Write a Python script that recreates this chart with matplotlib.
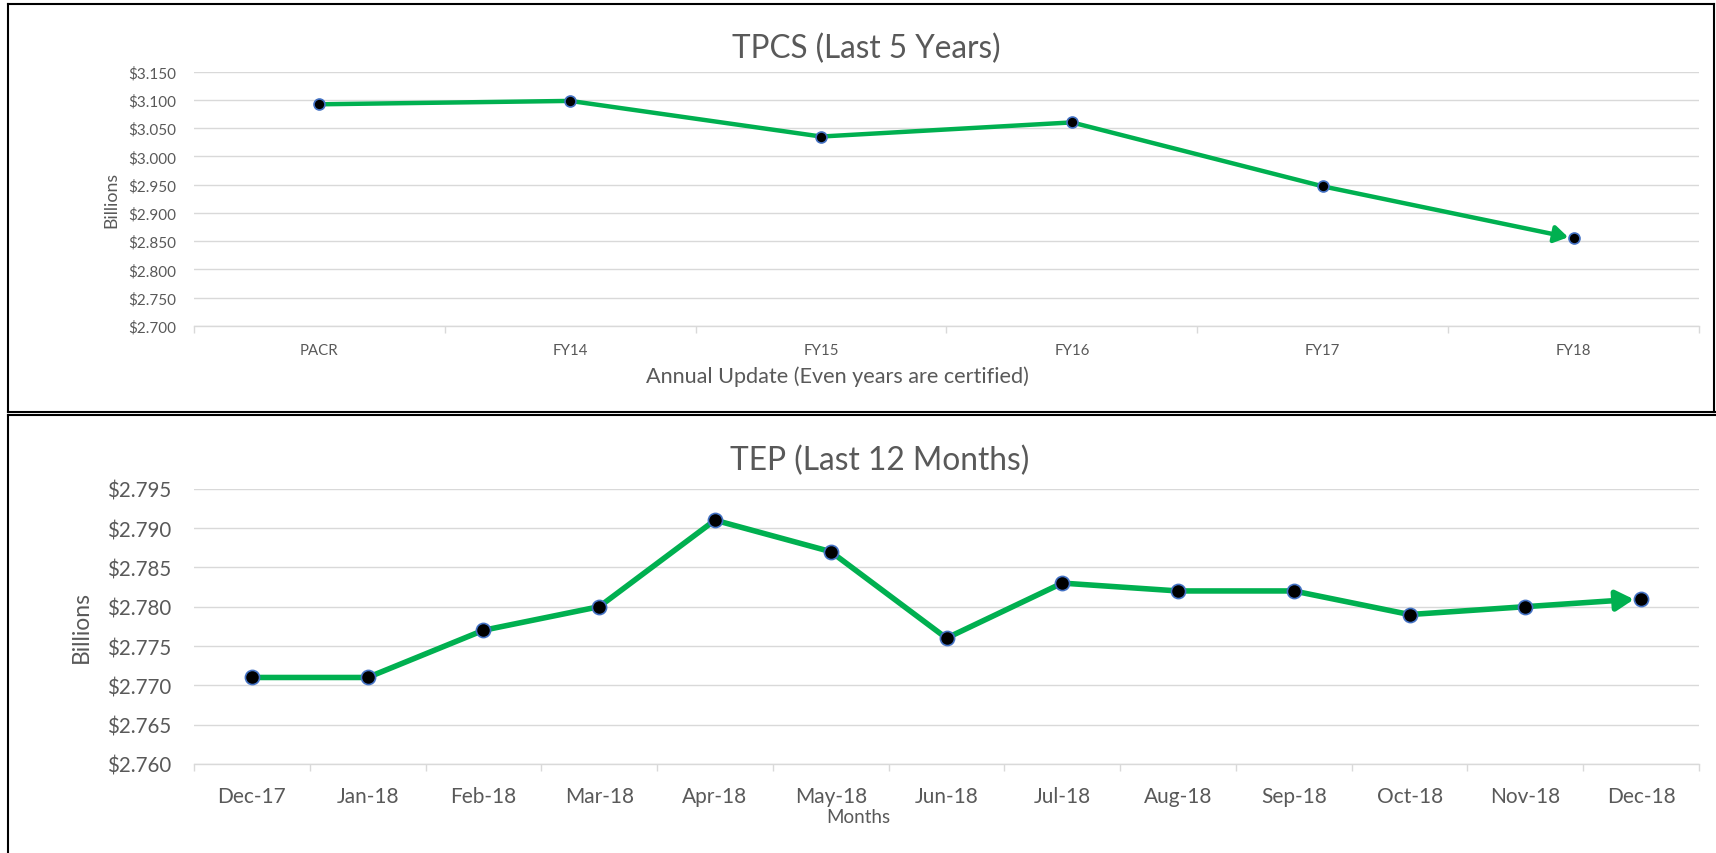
import matplotlib
matplotlib.use('Agg')
import matplotlib.pyplot as plt
from matplotlib.ticker import MultipleLocator, FuncFormatter
from matplotlib.lines import Line2D
import numpy as np

plt.rcParams['font.family'] = ['Lato', 'DejaVu Sans']

# TPCS, annual updates
years = ['PACR', 'FY14', 'FY15', 'FY16', 'FY17', 'FY18']
tpcs = [3.092, 3.098, 3.035, 3.060, 2.947, 2.855]

# TEP, last 12 months
months = ['Dec-17', 'Jan-18', 'Feb-18', 'Mar-18', 'Apr-18', 'May-18', 'Jun-18',
          'Jul-18', 'Aug-18', 'Sep-18', 'Oct-18', 'Nov-18', 'Dec-18']
tep = [2.771, 2.771, 2.777, 2.780, 2.791, 2.787, 2.776,
       2.783, 2.782, 2.782, 2.779, 2.780, 2.781]

GREEN = '#00B050'
GRID = '#D9D9D9'
TXT = '#595959'
W, H = 1716, 854

fig = plt.figure(figsize=(W / 100, H / 100), dpi=100)


def fx(x):
    return x / W


def fy(y):
    return 1 - y / H


def draw(ax, labels, vals, ylim, step, lw, ms, head, xfs, yfs, xpad, ypad):
    x = np.arange(len(labels))
    # line with an arrow on the last segment
    ax.plot(x[:-1], vals[:-1], color=GREEN, lw=lw, zorder=3, solid_joinstyle='round')
    ax.annotate('', xy=(x[-1], vals[-1]), xytext=(x[-2], vals[-2]),
                arrowprops=dict(arrowstyle='-|>,head_length=%s,head_width=%s' % head,
                                color=GREEN, lw=lw, shrinkA=0, shrinkB=ms / 2),
                zorder=3.5)
    ax.plot(x, vals, ls='none', marker='o', ms=ms, mfc='black', mec='#4472C4',
            mew=1.2, zorder=4)

    ax.set_xlim(-0.5, len(labels) - 0.5)
    ax.set_ylim(*ylim)
    ax.yaxis.set_major_locator(MultipleLocator(step))
    ax.yaxis.set_major_formatter(FuncFormatter(lambda v, p: '${:.3f}'.format(v)))
    ax.yaxis.grid(True, color=GRID, lw=1.0)
    ax.set_axisbelow(True)

    ax.set_xticks(x)
    ax.set_xticklabels(labels)
    ax.set_xticks(np.arange(len(labels) + 1) - 0.5, minor=True)
    ax.tick_params(axis='x', which='major', length=0, pad=xpad, labelsize=xfs, colors=TXT)
    ax.tick_params(axis='x', which='minor', length=5, width=1, color=GRID)
    ax.tick_params(axis='y', length=0, pad=ypad, labelsize=yfs, colors=TXT)
    for s in ['top', 'right', 'left']:
        ax.spines[s].set_visible(False)
    ax.spines['bottom'].set_color(GRID)
    ax.spines['bottom'].set_linewidth(1.0)


# top chart
ax1 = fig.add_axes([fx(194), fy(327), fx(1699) - fx(194), fy(72.5) - fy(327)])
draw(ax1, years, tpcs, (2.700, 3.150), 0.05, 3.2, 7.9, (0.8, 0.5),
     10.8, 11, 12.5, 13)

# bottom chart
ax2 = fig.add_axes([fx(194), fy(765), fx(1699) - fx(194), fy(489.7) - fy(765)])
draw(ax2, months, tep, (2.760, 2.795), 0.005, 4.0, 10.2, (1.05, 0.6),
     15, 14.8, 16, 16.5)

# titles and axis labels
fig.text(fx(866), fy(58), 'TPCS (Last 5 Years)', ha='center', va='baseline',
         fontsize=22.7, color=TXT)
fig.text(fx(837), fy(383), 'Annual Update (Even years are certified)', ha='center',
         va='baseline', fontsize=15.6, color=TXT)
fig.text(fx(111), fy(200), 'Billions', ha='center', va='center', rotation=90,
         fontsize=12.8, color=TXT)

fig.text(fx(880), fy(470), 'TEP (Last 12 Months)', ha='center', va='baseline',
         fontsize=22.9, color=TXT)
fig.text(fx(858), fy(823), 'Months', ha='center', va='baseline',
         fontsize=13.5, color=TXT)
fig.text(fx(81), fy(627), 'Billions', ha='center', va='center', rotation=90,
         fontsize=16.5, color=TXT)

# chart frames
frame = dict(color='black', lw=1.5, transform=fig.transFigure)
fig.add_artist(Line2D([fx(8), fx(1714)], [fy(4.5), fy(4.5)], **frame))
fig.add_artist(Line2D([fx(8), fx(8)], [fy(4.5), fy(412.5)], **frame))
fig.add_artist(Line2D([fx(1714), fx(1714)], [fy(4.5), fy(412.5)], **frame))
fig.add_artist(Line2D([fx(8), fx(1716)], [fy(412.5), fy(412.5)], **frame))
fig.add_artist(Line2D([fx(8), fx(1716)], [fy(416), fy(416)], **frame))
fig.add_artist(Line2D([fx(8), fx(8)], [fy(416), fy(854)], **frame))

fig.savefig('out.png', dpi=100)
